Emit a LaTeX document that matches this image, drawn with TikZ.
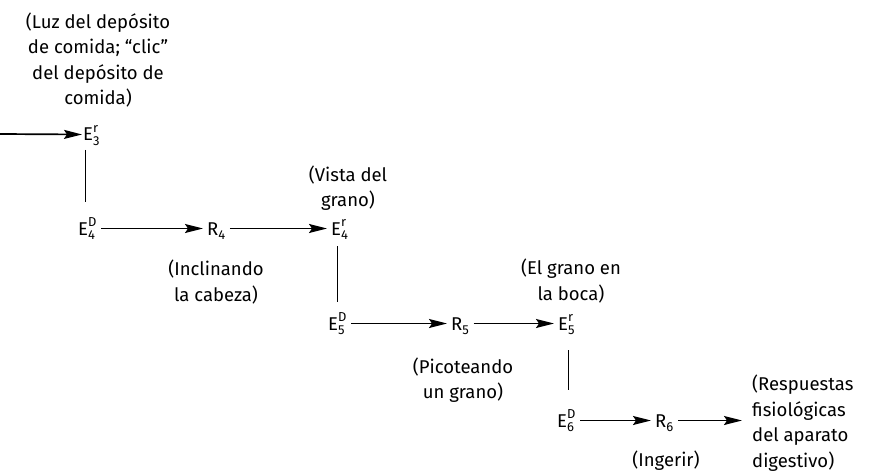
\documentclass[tikz,border=0pt]{standalone}
\usepackage{amsmath}
\usepackage{fontspec}
\setmainfont{Fira Sans}
\usetikzlibrary{arrows.meta,calc}

% stimulus / response symbol with stacked super- and subscript
\newcommand\sym[3]{$\text{#1}^{\text{#2}}_{\text{#3}}$}

\tikzset{
  txt/.style={inner sep=0pt, font=\fontsize{18.5}{25.5}\selectfont},
  symb/.style={txt, anchor=base west},
  note/.style={txt, align=center},
  arr/.style={line width=1.7pt, -{Stealth[length=18pt,width=9pt,inset=3pt]},
              shorten <=4pt, shorten >=4pt},
  link/.style={line width=1pt},
}

\begin{document}
\begin{tikzpicture}[x=1pt,y=-1pt]
\useasboundingbox (0,0) rectangle (873,476);

% chain of stimuli and responses
\node[symb] (e3)  at (83,141)  {\sym{E}{r}{3}};
\node[symb] (e4d) at (78,235)  {\sym{E}{D}{4}};
\node[symb] (r4)  at (207,235) {\sym{R}{}{4}};
\node[symb] (e4r) at (331,235) {\sym{E}{r}{4}};
\node[symb] (e5d) at (328,330) {\sym{E}{D}{5}};
\node[symb] (r5)  at (451,330) {\sym{R}{}{5}};
\node[symb] (e5r) at (558,330) {\sym{E}{r}{5}};
\node[symb] (e6d) at (557,427) {\sym{E}{D}{6}};
\node[symb] (r6)  at (655,427) {\sym{R}{}{6}};

% descriptions
\node[note] (luz) at (98,60) {(Luz del depósito\\de comida; ``clic''\\del depósito de\\comida)};
\node[note] (vista) at (348,188) {(Vista del\\grano)};
\node[note] (incl) at (216,282) {(Inclinando\\la cabeza)};
\node[note] (boca) at (571,281) {(El grano en\\la boca)};
\node[note] (pico) at (463,380) {(Picoteando\\un grano)};
\node[note] (ing) at (666,461) {(Ingerir)};
\node[txt, align=left, anchor=west] (resp) at (752,423)
  {(Respuestas\\fisiológicas\\del aparato\\digestivo)};

% incoming arrow
\coordinate (in) at (0,134);
\draw[arr, shorten <=0pt, shorten >=1pt] (in) -- ([yshift=6.5pt]e3.base west);

% horizontal arrows
\draw[arr] ([yshift=6.5pt]e4d.base east) -- ([yshift=6.5pt]r4.base west);
\draw[arr] ([yshift=6.5pt]r4.base east)  -- ([yshift=6.5pt]e4r.base west);
\draw[arr] ([yshift=6.5pt]e5d.base east) -- ([yshift=6.5pt]r5.base west);
\draw[arr] ([yshift=6.5pt]r5.base east)  -- ([yshift=6.5pt]e5r.base west);
\draw[arr] ([yshift=6.5pt]e6d.base east) -- ([yshift=6.5pt]r6.base west);
\coordinate (r6out) at ([yshift=6.5pt]r6.base east);
\draw[arr, shorten >=10pt] (r6out) -- (r6out -| resp.west);

% vertical links between steps
\draw[link] ($(e3.base west)+(2,9)$)   -- ($(e4d.base west)+(7,-33)$);
\draw[link] ($(e4r.base west)+(6,11)$) -- ($(e5d.base west)+(9,-28)$);
\draw[link] ($(e5r.base west)+(10,20)$) -- ($(e6d.base west)+(11,-37)$);
\end{tikzpicture}
\end{document}
